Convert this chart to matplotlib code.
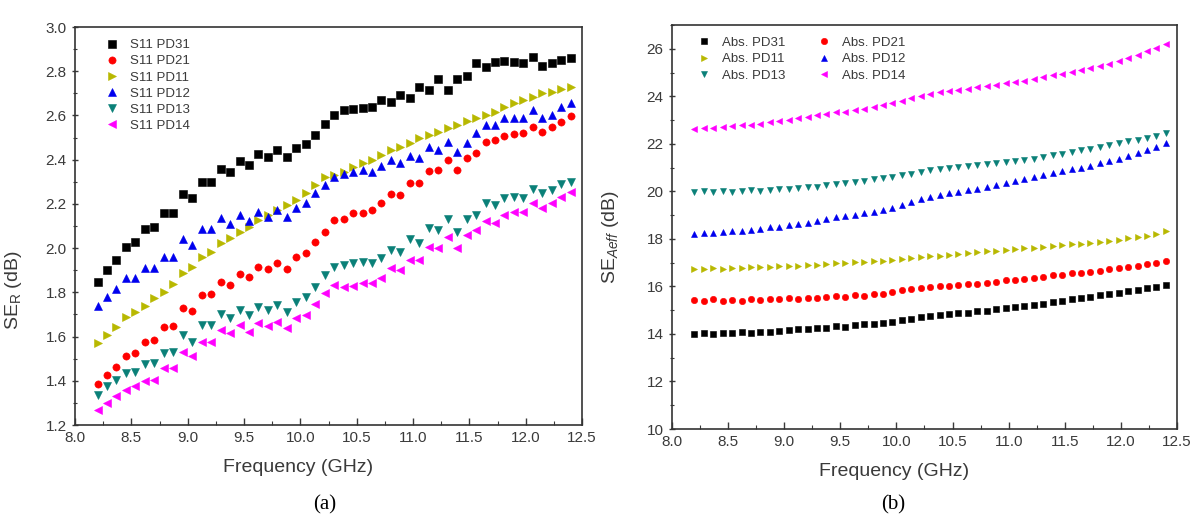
import numpy as np
import matplotlib
matplotlib.use('Agg')
import matplotlib.pyplot as plt
from matplotlib.ticker import MultipleLocator

plt.rcParams['font.family'] = ['Liberation Sans', 'DejaVu Sans']
plt.rcParams['mathtext.fontset'] = 'custom'
plt.rcParams['mathtext.rm'] = 'Liberation Sans'
plt.rcParams['mathtext.it'] = 'Liberation Sans:italic'

# frecuencias (banda X), 51 puntos
freq = np.linspace(8.2, 12.4, 51)

# (a) SE_R
ser_pd31 = [1.845, 1.90, 1.946, 2.006, 2.029, 2.085, 2.097, 2.16, 2.16, 2.245,
            2.225, 2.30, 2.30, 2.36, 2.345, 2.395, 2.376, 2.426, 2.413, 2.444,
            2.413, 2.451, 2.47, 2.51, 2.561, 2.602, 2.625, 2.629, 2.632, 2.64,
            2.67, 2.662, 2.692, 2.677, 2.727, 2.715, 2.763, 2.715, 2.763, 2.778,
            2.836, 2.82, 2.843, 2.848, 2.843, 2.836, 2.866, 2.824, 2.836, 2.85, 2.862]
ser_pd21 = [1.385, 1.426, 1.464, 1.512, 1.527, 1.577, 1.584, 1.644, 1.648, 1.728,
            1.717, 1.788, 1.792, 1.848, 1.833, 1.883, 1.868, 1.913, 1.904, 1.931,
            1.904, 1.961, 1.976, 2.029, 2.074, 2.127, 2.130, 2.16, 2.157, 2.172,
            2.203, 2.245, 2.24, 2.296, 2.296, 2.35, 2.353, 2.398, 2.353, 2.406,
            2.431, 2.481, 2.489, 2.507, 2.516, 2.519, 2.549, 2.526, 2.549, 2.572, 2.597]
ser_pd11 = [1.569, 1.607, 1.644, 1.687, 1.712, 1.738, 1.773, 1.803, 1.838, 1.889,
            1.913, 1.961, 1.984, 2.022, 2.044, 2.074, 2.097, 2.127, 2.15, 2.172,
            2.195, 2.218, 2.248, 2.285, 2.323, 2.331, 2.346, 2.368, 2.383, 2.398,
            2.421, 2.444, 2.459, 2.477, 2.497, 2.512, 2.527, 2.542, 2.557, 2.576,
            2.587, 2.602, 2.617, 2.637, 2.655, 2.67, 2.685, 2.70, 2.707, 2.718, 2.73]
ser_pd12 = [1.738, 1.78, 1.813, 1.863, 1.863, 1.909, 1.909, 1.961, 1.961, 2.04,
            2.014, 2.085, 2.085, 2.135, 2.109, 2.15, 2.124, 2.165, 2.142, 2.172,
            2.139, 2.18, 2.203, 2.248, 2.285, 2.32, 2.335, 2.345, 2.353, 2.346,
            2.371, 2.398, 2.383, 2.416, 2.406, 2.456, 2.444, 2.481, 2.436, 2.474,
            2.519, 2.557, 2.557, 2.587, 2.59, 2.587, 2.625, 2.587, 2.602, 2.64, 2.655]
ser_pd13 = [1.335, 1.376, 1.403, 1.433, 1.44, 1.476, 1.482, 1.527, 1.531, 1.607,
            1.577, 1.652, 1.652, 1.704, 1.682, 1.72, 1.697, 1.735, 1.72, 1.743,
            1.713, 1.758, 1.78, 1.826, 1.879, 1.913, 1.924, 1.931, 1.939, 1.931,
            1.954, 1.991, 1.984, 2.04, 2.022, 2.09, 2.082, 2.13, 2.074, 2.13,
            2.15, 2.203, 2.195, 2.225, 2.233, 2.225, 2.266, 2.248, 2.263, 2.29, 2.30]
ser_pd14 = [1.27, 1.30, 1.33, 1.36, 1.375, 1.40, 1.405, 1.46, 1.46, 1.53,
            1.51, 1.577, 1.577, 1.63, 1.615, 1.652, 1.622, 1.66, 1.648, 1.667,
            1.637, 1.682, 1.697, 1.747, 1.796, 1.833, 1.825, 1.828, 1.841, 1.841,
            1.863, 1.909, 1.901, 1.946, 1.946, 2.006, 1.999, 2.052, 1.999, 2.059,
            2.082, 2.124, 2.115, 2.15, 2.165, 2.165, 2.203, 2.18, 2.203, 2.233, 2.255]

# (b) SE_Aeff
abs_pd31 = [14.00, 14.02, 14.01, 14.05, 14.04, 14.07, 14.06, 14.10, 14.08, 14.14,
            14.16, 14.20, 14.19, 14.25, 14.27, 14.33, 14.31, 14.38, 14.40, 14.43,
            14.48, 14.52, 14.58, 14.63, 14.70, 14.74, 14.80, 14.84, 14.88, 14.90,
            14.95, 14.98, 15.03, 15.08, 15.12, 15.18, 15.22, 15.28, 15.33, 15.40,
            15.46, 15.52, 15.56, 15.62, 15.68, 15.74, 15.80, 15.85, 15.92, 15.98, 16.05]
abs_pd21 = [15.42, 15.40, 15.45, 15.38, 15.42, 15.40, 15.45, 15.43, 15.48, 15.46,
            15.50, 15.48, 15.52, 15.50, 15.55, 15.58, 15.56, 15.62, 15.60, 15.66,
            15.70, 15.78, 15.85, 15.88, 15.92, 15.96, 16.02, 16.00, 16.06, 16.10,
            16.12, 16.16, 16.20, 16.26, 16.28, 16.32, 16.36, 16.40, 16.46, 16.50,
            16.55, 16.58, 16.62, 16.66, 16.72, 16.76, 16.82, 16.88, 16.93, 16.98, 17.05]
abs_pd11 = [16.75, 16.74, 16.76, 16.75, 16.78, 16.77, 16.80, 16.80, 16.83, 16.84,
            16.86, 16.88, 16.90, 16.92, 16.95, 16.98, 17.00, 17.02, 17.04, 17.06,
            17.08, 17.12, 17.15, 17.18, 17.22, 17.26, 17.30, 17.33, 17.37, 17.40,
            17.43, 17.47, 17.50, 17.53, 17.57, 17.60, 17.63, 17.67, 17.70, 17.74,
            17.77, 17.80, 17.84, 17.88, 17.92, 17.96, 18.02, 18.08, 18.14, 18.22, 18.33]
abs_pd12 = [18.22, 18.26, 18.25, 18.30, 18.32, 18.35, 18.38, 18.42, 18.48, 18.52,
            18.58, 18.62, 18.68, 18.75, 18.82, 18.90, 18.95, 19.02, 19.08, 19.15,
            19.22, 19.30, 19.42, 19.55, 19.68, 19.75, 19.85, 19.92, 19.98, 20.05,
            20.12, 20.20, 20.28, 20.36, 20.45, 20.52, 20.60, 20.68, 20.76, 20.84,
            20.92, 21.00, 21.08, 21.18, 21.28, 21.38, 21.48, 21.60, 21.72, 21.88, 22.05]
abs_pd13 = [19.98, 20.00, 19.96, 20.02, 19.98, 20.00, 20.04, 20.00, 20.06, 20.10,
            20.12, 20.15, 20.18, 20.20, 20.26, 20.30, 20.35, 20.38, 20.45, 20.50,
            20.55, 20.62, 20.68, 20.75, 20.82, 20.88, 20.95, 21.00, 21.04, 21.08,
            21.12, 21.15, 21.18, 21.22, 21.28, 21.32, 21.38, 21.45, 21.52, 21.58,
            21.65, 21.72, 21.80, 21.88, 21.95, 22.02, 22.10, 22.18, 22.26, 22.35, 22.45]
abs_pd14 = [22.62, 22.66, 22.68, 22.70, 22.74, 22.78, 22.80, 22.85, 22.90, 22.96,
            23.02, 23.08, 23.14, 23.20, 23.26, 23.32, 23.36, 23.42, 23.48, 23.56,
            23.65, 23.72, 23.82, 23.92, 24.02, 24.10, 24.18, 24.22, 24.28, 24.32,
            24.38, 24.42, 24.48, 24.55, 24.60, 24.66, 24.72, 24.80, 24.88, 24.95,
            25.02, 25.10, 25.18, 25.28, 25.38, 25.50, 25.62, 25.75, 25.90, 26.05, 26.22]

names = ['PD31', 'PD21', 'PD11', 'PD12', 'PD13', 'PD14']
colores = ['black', '#ff0000', '#b8b800', '#0000ee', '#0a8078', '#ff00ff']
marcadores = ['s', 'o', '>', '^', 'v', '<']
texto = '#3a3a3a'

fig = plt.figure(figsize=(12.04, 5.32), dpi=100)
ax1 = fig.add_axes([0.0623, 0.2011, 0.4211, 0.7481])
ax2 = fig.add_axes([0.5581, 0.1936, 0.4195, 0.7594])

serie_a = [ser_pd31, ser_pd21, ser_pd11, ser_pd12, ser_pd13, ser_pd14]
serie_b = [abs_pd31, abs_pd21, abs_pd11, abs_pd12, abs_pd13, abs_pd14]

lineas_a = []
for y, n, c, m in zip(serie_a, names, colores, marcadores):
    l, = ax1.plot(freq, y, linestyle='none', marker=m, color=c, markersize=5.2,
                  markeredgewidth=0.4, label='S11 ' + n)
    lineas_a.append(l)

lineas_b = []
for y, n, c, m in zip(serie_b, names, colores, marcadores):
    l, = ax2.plot(freq, y, linestyle='none', marker=m, color=c, markersize=4.6,
                  markeredgewidth=0.4, label='Abs. ' + n)
    lineas_b.append(l)

# Ejes
for ax in (ax1, ax2):
    ax.set_xlim(8.0, 12.5)
    ax.xaxis.set_major_locator(MultipleLocator(0.5))
    ax.xaxis.set_minor_locator(MultipleLocator(0.25))
    ax.tick_params(axis='x', which='both', direction='in', top=False, colors=texto,
                   labelsize=11, pad=4)
    ax.tick_params(axis='y', which='both', direction='inout', right=False, colors=texto,
                   labelsize=11)
    ax.tick_params(which='major', length=5, width=1)
    ax.tick_params(which='minor', length=3, width=0.8)
    for s in ax.spines.values():
        s.set_color('#333333')
        s.set_linewidth(1.2)
    ax.set_xlabel('Frequency (GHz)', fontsize=14, color=texto)
    ax.xaxis.set_label_coords(0.44, -0.085)

ax1.set_ylim(1.2, 3.0)
ax1.yaxis.set_major_locator(MultipleLocator(0.2))
ax1.yaxis.set_minor_locator(MultipleLocator(0.1))
ax1.set_ylabel(r'SE$_\mathregular{R}$ (dB)', fontsize=14, color=texto)
ax1.yaxis.set_label_coords(-0.10, 0.34)

ax2.set_ylim(10, 27)
ax2.yaxis.set_major_locator(MultipleLocator(2))
ax2.yaxis.set_minor_locator(MultipleLocator(1))
ax2.set_ylabel(r'SE$_{\mathit{Aeff}}$ (dB)', fontsize=14, color=texto)
ax2.yaxis.set_label_coords(-0.10, 0.475)

ax1.legend(handles=lineas_a, loc='upper left', bbox_to_anchor=(0.03, 1.0), frameon=False,
           fontsize=9.5, labelspacing=0.3, handletextpad=0.6, handlelength=1.5,
           labelcolor=texto)

orden = [lineas_b[i] for i in (0, 2, 4, 1, 3, 5)]
ax2.legend(handles=orden, loc='upper left', bbox_to_anchor=(0.02, 1.0), frameon=False,
           ncol=2, fontsize=9.5, labelspacing=0.3, handletextpad=0.6, handlelength=1.5,
           columnspacing=2.2, labelcolor=texto)

fig.text(325 / 1204, 1 - 505 / 532, '(a)', ha='center', va='center',
         fontsize=15, family=['Liberation Serif', 'DejaVu Serif'])
fig.text(893 / 1204, 1 - 505 / 532, '(b)', ha='center', va='center',
         fontsize=15, family=['Liberation Serif', 'DejaVu Serif'])

fig.savefig('out.png', dpi=100)
